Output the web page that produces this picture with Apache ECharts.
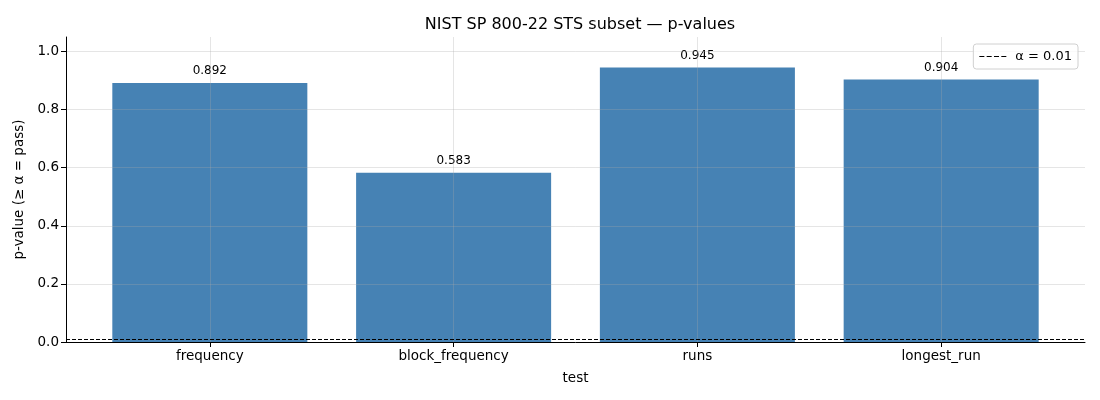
<!DOCTYPE html>
<html>
<head>
<meta charset="utf-8">
<script src="https://cdn.jsdelivr.net/npm/echarts@6/dist/echarts.min.js"></script>
<style>
  html, body { margin: 0; padding: 0; background: #fff; }
  #chart { width: 1100px; height: 400px; }
</style>
</head>
<body>
<div id="chart"></div>
<script>
// 数据
const tests = ["frequency", "block_frequency", "runs", "longest_run"];
const pValues = [0.892, 0.583, 0.945, 0.904];
const alpha = 0.01;
const yTicks = [0, 0.2, 0.4, 0.6, 0.8, 1.0];
const xTicks = [0, 1, 2, 3];

const font = "DejaVu Sans, sans-serif";
let chart = echarts.init(document.getElementById("chart"));

// 图例用的虚线图标
const dashIcon = "path://M0 0h5v1h-5z M7.3 0h5v1h-5z M14.6 0h5v1h-5z M21.9 0h5v1h-5z";

// 只显示刻度位置上的标签
const isTick = (list, v) => list.some((t) => Math.abs(t - v) < 1e-6);

let option = {
  animation: false,
  textStyle: { fontFamily: font },
  title: {
    text: "NIST SP 800-22 STS subset — p-values",
    left: 575,
    textAlign: "center",
    top: 12,
    textStyle: { fontSize: 16, fontWeight: "normal", color: "#000", fontFamily: font },
  },
  legend: {
    right: 22,
    top: 44,
    data: [{ name: "α = " + alpha, icon: dashIcon }],
    itemWidth: 27,
    itemHeight: 1.2,
    itemGap: 10,
    padding: [6, 6, 6, 6],
    borderColor: "#d0d0d0",
    borderWidth: 1,
    borderRadius: 3,
    backgroundColor: "rgba(255,255,255,0.8)",
    textStyle: { fontSize: 13, color: "#000", fontFamily: font, padding: [0, 0, 0, 4] },
  },
  grid: { left: 66, right: 15, top: 37, bottom: 58 },
  xAxis: {
    type: "value",
    min: -0.59,
    max: 3.59,
    z: 3,
    name: "test",
    nameLocation: "middle",
    nameGap: 29,
    nameTextStyle: { fontSize: 13.5, color: "#000" },
    axisLine: { show: true, onZero: false, lineStyle: { color: "#000", width: 1 } },
    axisTick: { show: true, inside: false, length: 5, customValues: xTicks, lineStyle: { color: "#000", width: 1 } },
    axisLabel: {
      fontSize: 13.5,
      color: "#000",
      margin: 7,
      showMinLabel: false,
      showMaxLabel: false,
      formatter: (v) => (isTick(xTicks, v) ? tests[Math.round(v)] : ""),
    },
    splitLine: { show: true, lineStyle: { color: "rgba(170,170,170,0.3)", width: 1 } },
  },
  yAxis: {
    type: "value",
    min: 0,
    max: 1.05,
    interval: 0.2,
    z: 3,
    name: "p-value (≥ α = pass)",
    nameLocation: "middle",
    nameGap: 38,
    nameTextStyle: { fontSize: 13.5, color: "#000" },
    axisLine: { show: true, onZero: false, lineStyle: { color: "#000", width: 1 } },
    axisTick: { show: true, inside: false, length: 5, customValues: yTicks, lineStyle: { color: "#000", width: 1 } },
    axisLabel: {
      fontSize: 13.5,
      color: "#000",
      margin: 7,
      formatter: (v) => (isTick(yTicks, v) ? v.toFixed(1) : ""),
    },
    splitLine: { show: true, lineStyle: { color: "rgba(170,170,170,0.3)", width: 1 } },
  },
  series: [
    {
      name: "p-value",
      type: "bar",
      barWidth: "80%",
      data: pValues.map((v, i) => [i, v]),
      itemStyle: { color: "#4682b4" },
      label: {
        show: true,
        position: "top",
        distance: 6,
        fontSize: 12,
        color: "#000",
        fontFamily: font,
        formatter: (p) => p.value[1].toFixed(3),
      },
    },
    {
      name: "α = " + alpha,
      type: "line",
      data: [],
      symbol: "none",
      lineStyle: { color: "#000", width: 1, type: [4, 2] },
      itemStyle: { color: "#000" },
      markLine: {
        silent: true,
        symbol: "none",
        label: { show: false },
        lineStyle: { color: "#000", width: 1, type: [4, 2] },
        data: [{ yAxis: alpha }],
      },
    },
  ],
};
chart.setOption(option);
</script>
</body>
</html>
